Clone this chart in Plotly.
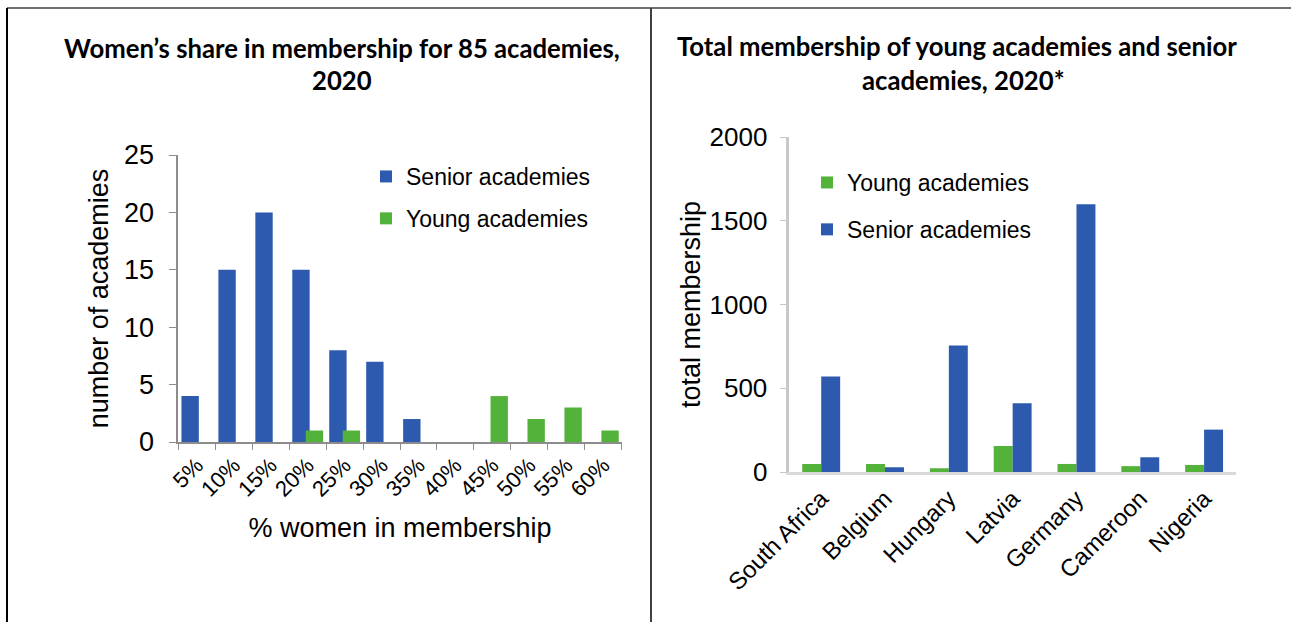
import plotly.graph_objects as go

# left panel: distribution of women's share
share_bins = ["5%", "10%", "15%", "20%", "25%", "30%", "35%", "40%", "45%", "50%", "55%", "60%"]
senior_counts = [4, 15, 20, 15, 8, 7, 2, 0, 0, 0, 0, 0]
young_counts = [0, 0, 0, 1, 1, 0, 0, 0, 4, 2, 3, 1]

# right panel: total membership
countries = ["South Africa", "Belgium", "Hungary", "Latvia", "Germany", "Cameroon", "Nigeria"]
young_members = [48, 48, 22, 155, 48, 35, 42]
senior_members = [570, 28, 755, 410, 1598, 88, 253]

W, H = 1291, 622
SENIOR = "#2D5AAE"
YOUNG = "#52B23A"
FONT = "Liberation Sans, Arial, sans-serif"
TITLE_FONT = "Lato, Open Sans, sans-serif"


def px_x(v):
    return v / W


def px_y(v):
    return (H - v) / H


fig = go.Figure()

fig.add_trace(go.Bar(
    x=share_bins, y=senior_counts, name="Senior academies",
    marker=dict(color=SENIOR, line=dict(width=0)),
    offset=-0.415, width=0.47, legend="legend", legendgroup="s1",
    xaxis="x", yaxis="y",
))
fig.add_trace(go.Bar(
    x=share_bins, y=young_counts, name="Young academies",
    marker=dict(color=YOUNG, line=dict(width=0)),
    offset=-0.05, width=0.47, legend="legend", legendgroup="y1",
    xaxis="x", yaxis="y",
))
fig.add_trace(go.Bar(
    x=countries, y=young_members, name="Young academies",
    marker=dict(color=YOUNG, line=dict(width=0)),
    offset=-0.297, width=0.297, legend="legend2", legendgroup="y2",
    xaxis="x2", yaxis="y2",
))
fig.add_trace(go.Bar(
    x=countries, y=senior_members, name="Senior academies",
    marker=dict(color=SENIOR, line=dict(width=0)),
    offset=0.0, width=0.297, legend="legend2", legendgroup="s2",
    xaxis="x2", yaxis="y2",
))

fig.update_layout(
    width=W, height=H,
    barmode="overlay",
    paper_bgcolor="white", plot_bgcolor="white",
    font=dict(family=FONT, color="black"),
    margin=dict(l=0, r=0, t=0, b=0, pad=0, autoexpand=False),
    xaxis=dict(
        domain=[px_x(178.3), px_x(621.7)], anchor="y", automargin=False,
        showline=True, linecolor="#8C8C8C", linewidth=1.5,
        ticks="outside", tickson="boundaries", ticklen=6, tickcolor="#8C8C8C",
        tickangle=-45, tickfont=dict(size=22),
        title=dict(text="% women in membership", font=dict(size=27), standoff=17),
        showgrid=False, zeroline=False, fixedrange=True,
    ),
    yaxis=dict(
        domain=[px_y(442), px_y(155)], anchor="x", automargin=False,
        range=[0, 25], dtick=5,
        showline=True, linecolor="#8C8C8C", linewidth=1.5,
        ticks="outside", ticklen=8, tickcolor="#8C8C8C",
        tickfont=dict(size=27), ticklabelstandoff=9,
        title=dict(text="number of academies", font=dict(size=27), standoff=8),
        showgrid=False, zeroline=False,
    ),
    xaxis2=dict(
        domain=[px_x(789.3), px_x(1236)], anchor="y2", automargin=False,
        showline=True, linecolor="#D9D9D9", linewidth=3,
        ticks="", tickangle=-45, tickfont=dict(size=24),
        showgrid=False, zeroline=False,
    ),
    yaxis2=dict(
        domain=[px_y(472), px_y(137)], anchor="x2", automargin=False,
        range=[0, 2000], dtick=500,
        showline=True, linecolor="#C8C8C8", linewidth=2.5,
        ticks="outside", ticklen=7, tickcolor="#C8C8C8",
        tickfont=dict(size=26), ticklabelstandoff=7,
        title=dict(text="total membership", font=dict(size=27), standoff=2),
        showgrid=False, zeroline=False,
    ),
    legend=dict(
        x=px_x(366), y=px_y(155), xanchor="left", yanchor="top",
        font=dict(size=23), tracegroupgap=9, bgcolor="rgba(0,0,0,0)",
        traceorder="grouped",
    ),
    legend2=dict(
        x=px_x(807), y=px_y(161), xanchor="left", yanchor="top",
        font=dict(size=23), tracegroupgap=14, bgcolor="rgba(0,0,0,0)",
        traceorder="grouped",
    ),
)

# chart titles
titles = [
    ("Women’s share in membership for 85 academies,", 342, 48),
    ("2020", 342, 80),
    ("Total membership of young academies and senior", 957, 46),
    ("academies, 2020*", 963, 80),
]
for text, cx, cy in titles:
    fig.add_annotation(
        text=f"<b>{text}</b>", xref="paper", yref="paper",
        x=px_x(cx), y=px_y(cy), xanchor="center", yanchor="middle",
        showarrow=False, font=dict(family=TITLE_FONT, size=25.7, color="black"),
    )

# panel frame
top = px_y(8)
fig.add_shape(type="line", xref="paper", yref="paper", x0=px_x(7), x1=1, y0=top, y1=top,
              line=dict(color="#404040", width=1.5))
fig.add_shape(type="line", xref="paper", yref="paper", x0=px_x(7), x1=px_x(7), y0=0, y1=top,
              line=dict(color="black", width=2))
fig.add_shape(type="line", xref="paper", yref="paper", x0=px_x(651), x1=px_x(651), y0=0, y1=top,
              line=dict(color="#404040", width=2))

fig.write_html("out.html", config={"displayModeBar": False},
               post_script="document.body.style.margin='0';")
